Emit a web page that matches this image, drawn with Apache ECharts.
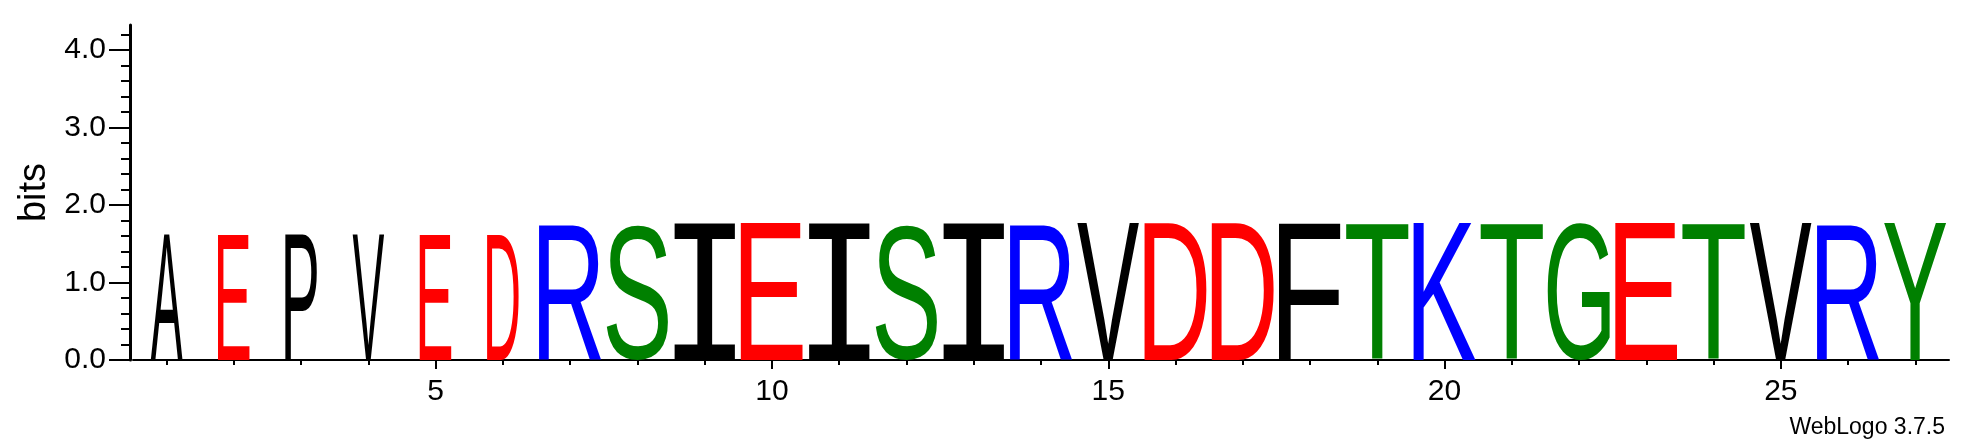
<!DOCTYPE html>
<html lang="en">
<head>
<meta charset="UTF-8">
<title>WebLogo</title>
<style>
    html, body { margin: 0; padding: 0; background: #fff; }
    #logo { width: 1973px; height: 444px; }
</style>
</head>
<body>
<div id="logo"></div>
<script src="https://cdn.jsdelivr.net/npm/echarts@6/dist/echarts.min.js"></script>
<script>
    // one residue per column
    var residues = ['A', 'E', 'P', 'V', 'E', 'D', 'R', 'S', 'I', 'E', 'I', 'S', 'I', 'R',
                    'V', 'D', 'D', 'F', 'T', 'K', 'T', 'G', 'E', 'T', 'V', 'R', 'Y'];
    // stack height in bits
    var bitHeights = [1.62, 1.62, 1.62, 1.62, 1.62, 1.62,
                      1.76, 1.76, 1.76, 1.76, 1.76, 1.76, 1.76, 1.76, 1.76, 1.76, 1.76,
                      1.76, 1.76, 1.76, 1.76, 1.76, 1.76, 1.76, 1.76, 1.76, 1.76];
    // column weight (fraction of non-gap sequences), scales the stack width
    var colWeights = [0.51, 0.51, 0.51, 0.51, 0.51, 0.51,
                      1, 1, 1, 1, 1, 1, 1, 1, 1, 1, 1,
                      1, 1, 1, 1, 1, 1, 1, 1, 1, 1];
    var yMajorTicks = [0, 1, 2, 3, 4];
    var yMinorTicks = [0.2, 0.4, 0.6, 0.8, 1.2, 1.4, 1.6, 1.8, 2.2, 2.4, 2.6, 2.8,
                       3.2, 3.4, 3.6, 3.8, 4.2];
    var xLabels = [5, 10, 15, 20, 25];
    var maxBits = 4.32;   // log2(20)

    // weblogo protein colours
    var colours = {
        G: '#008000', S: '#008000', T: '#008000', Y: '#008000', C: '#008000',
        N: '#800080', Q: '#800080',
        K: '#0000FF', R: '#0000FF', H: '#0000FF',
        D: '#FF0000', E: '#FF0000',
        P: '#000000', A: '#000000', W: '#000000', F: '#000000', L: '#000000',
        I: '#000000', M: '#000000', V: '#000000'
    };

    var positions = residues.map(function (r, i) { return i + 1; });

    var measureCtx = document.createElement('canvas').getContext('2d');
    var boxCache = {};
    function fontFor(ch) {
        // the I in weblogo has bars top and bottom
        return ch === 'I' ? '100px "DejaVu Sans Mono"' : '100px "Liberation Sans"';
    }
    function glyphBox(ch) {
        if (boxCache[ch]) return boxCache[ch];
        measureCtx.font = fontFor(ch);
        measureCtx.textAlign = 'center';
        measureCtx.textBaseline = 'middle';
        var m = measureCtx.measureText(ch);
        boxCache[ch] = {
            l: m.actualBoundingBoxLeft, r: m.actualBoundingBoxRight,
            a: m.actualBoundingBoxAscent, d: m.actualBoundingBoxDescent
        };
        return boxCache[ch];
    }

    function renderLetter(params, api) {
        var ch = residues[params.dataIndex];
        var pos = api.value(0);
        var base = api.coord([pos, 0]);
        var top = api.coord([pos, api.value(1)]);
        var w = api.size([1, 0])[0] * api.value(2) * 0.93;
        var b = glyphBox(ch);
        var sx = w / (b.l + b.r);
        var sy = (base[1] - top[1]) / (b.a + b.d);
        return {
            type: 'text',
            x: base[0],
            y: base[1],
            scaleX: sx,
            scaleY: sy,
            style: {
                text: ch,
                x: (b.l - b.r) / 2,
                y: -b.d,
                font: fontFor(ch),
                fill: colours[ch],
                align: 'center',
                verticalAlign: 'middle'
            }
        };
    }

    var letterData = residues.map(function (r, i) {
        return [positions[i], bitHeights[i], colWeights[i]];
    });

    var FONT = 'Liberation Sans';
    var gridBox = { left: 133, right: 24, top: 25, bottom: 84, containLabel: false, outerBoundsMode: 'none' };

    var myChart = echarts.init(document.getElementById('logo'), null, { renderer: 'canvas' });
    var option = {
        animation: false,
        backgroundColor: '#fff',
        grid: [
            Object.assign({}, gridBox),
            Object.assign({}, gridBox)
        ],
        xAxis: [{
            type: 'value', gridIndex: 0, min: 0.5, max: 27.5,
            axisLine: { show: true, onZero: false, lineStyle: { color: '#000', width: 2 } },
            axisTick: { show: true, customValues: positions, length: 5, lineStyle: { color: '#000', width: 2 } },
            axisLabel: { show: true, customValues: xLabels, color: '#000', fontSize: 30, fontFamily: FONT, margin: 17 },
            splitLine: { show: false }
        }, {
            type: 'value', gridIndex: 1, min: 0.5, max: 27.5,
            axisLine: { show: false },
            axisTick: { show: true, customValues: xLabels, length: 9, lineStyle: { color: '#000', width: 2 } },
            axisLabel: { show: false },
            splitLine: { show: false }
        }],
        yAxis: [{
            type: 'value', gridIndex: 0, min: 0, max: maxBits, offset: 3,
            name: 'bits', nameLocation: 'middle', nameGap: 74,
            nameTextStyle: { color: '#000', fontSize: 38, fontFamily: FONT },
            axisLine: { show: true, onZero: false, lineStyle: { color: '#000', width: 3 } },
            axisTick: { show: true, customValues: yMajorTicks, length: 21, lineStyle: { color: '#000', width: 2 } },
            axisLabel: {
                show: true, customValues: yMajorTicks, color: '#000', fontSize: 30, fontFamily: FONT, margin: 24,
                formatter: function (v) { return v.toFixed(1); }
            },
            splitLine: { show: false }
        }, {
            type: 'value', gridIndex: 1, min: 0, max: maxBits, offset: 3,
            axisLine: { show: false },
            axisTick: { show: true, customValues: yMinorTicks, length: 9, lineStyle: { color: '#000', width: 2 } },
            axisLabel: { show: false },
            splitLine: { show: false }
        }],
        graphic: [{
            type: 'text',
            x: 1945, y: 428,
            style: {
                text: 'WebLogo 3.7.5', fill: '#000', font: '23px "Liberation Sans"',
                align: 'right', verticalAlign: 'middle'
            }
        }],
        series: [{
            type: 'custom',
            xAxisIndex: 0, yAxisIndex: 0,
            renderItem: renderLetter,
            encode: { x: 0, y: 1 },
            clip: false,
            data: letterData
        }]
    };
    myChart.setOption(option);
</script>
</body>
</html>
